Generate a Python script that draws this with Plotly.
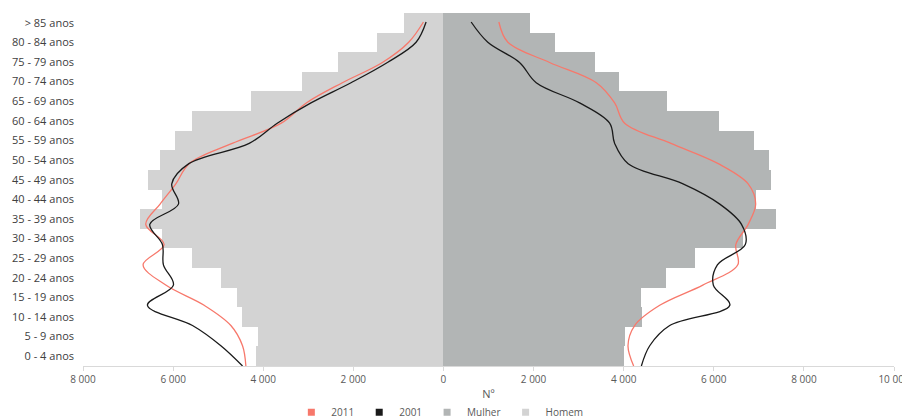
import plotly.graph_objects as go

categories = ["0 - 4 anos", "5 - 9 anos", "10 - 14 anos", "15 - 19 anos", "20 - 24 anos",
              "25 - 29 anos", "30 - 34 anos", "35 - 39 anos", "40 - 44 anos", "45 - 49 anos",
              "50 - 54 anos", "55 - 59 anos", "60 - 64 anos", "65 - 69 anos", "70 - 74 anos",
              "75 - 79 anos", "80 - 84 anos", "> 85 anos"]

homem = [4160, 4120, 4470, 4590, 4940, 5590, 6250, 6730, 6250, 6560,
         6290, 5960, 5590, 4270, 3150, 2350, 1480, 870]
mulher = [4010, 4020, 4410, 4390, 4930, 5590, 6650, 7380, 6930, 7270,
          7230, 6890, 6120, 4960, 3890, 3360, 2470, 1910]

h2011 = [4385, 4459, 4718, 5311, 6163, 6667, 6200, 6607, 6289, 5940,
         5644, 4689, 3600, 3044, 2244, 1355, 771, 444]
h2001 = [4459, 4940, 5570, 6570, 5993, 6215, 6237, 6518, 5881, 6030,
         5650, 4311, 3689, 2941, 2052, 1244, 607, 385]
m2011 = [4222, 4096, 4244, 4800, 5756, 6533, 6489, 6763, 6930, 6763,
         6100, 5050, 4022, 3800, 3393, 2356, 1430, 1230]
m2001 = [4393, 4578, 5022, 6356, 5990, 6080, 6700, 6615, 6133, 5318,
         4100, 3800, 3689, 3022, 2059, 1689, 985, 615]

tick_vals = [-8000, -6000, -4000, -2000, 0, 2000, 4000, 6000, 8000, 10000]
tick_text = ["8 000", "6 000", "4 000", "2 000", "0", "2 000", "4 000", "6 000", "8 000", "10 000"]

C_HOMEM = "#d3d3d3"
C_MULHER = "#b2b5b5"
C_2011 = "#f7786b"
C_2001 = "#1a1a1a"
FONT = "Open Sans"

fig = go.Figure()

fig.add_trace(go.Bar(y=categories, x=[-v for v in homem], orientation="h",
                     marker=dict(color=C_HOMEM, line=dict(width=0)),
                     name="Homem", showlegend=False, customdata=homem,
                     hovertemplate="%{y}: %{customdata}<extra>Homem</extra>"))
fig.add_trace(go.Bar(y=categories, x=mulher, orientation="h",
                     marker=dict(color=C_MULHER, line=dict(width=0)),
                     name="Mulher", showlegend=False))

line_specs = [(h2011, -1, C_2011, "2011"), (m2011, 1, C_2011, "2011"),
              (h2001, -1, C_2001, "2001"), (m2001, 1, C_2001, "2001")]
for vals, sgn, col, nm in line_specs:
    fig.add_trace(go.Scatter(y=categories, x=[sgn * v for v in vals], yaxis="y2",
                             mode="lines", line=dict(color=col, width=1.3, shape="spline", smoothing=1.0),
                             name=nm, showlegend=False))

# legend entries (small squares)
for nm, col in [("2011", C_2011), ("2001", C_2001), ("Mulher", C_MULHER), ("Homem", C_HOMEM)]:
    fig.add_trace(go.Scatter(x=[None], y=[None], mode="markers", name=nm,
                             marker=dict(symbol="square", size=7, color=col)))

fig.update_layout(
    width=902, height=412,
    margin=dict(l=75, r=16, t=5, b=54, autoexpand=False),
    paper_bgcolor="white", plot_bgcolor="white",
    barmode="overlay", bargap=0,
    font=dict(family=FONT, color="#404040", size=11),
    xaxis=dict(range=[-8000, 10000], tickvals=tick_vals, ticktext=tick_text,
               showgrid=False, zeroline=False, showline=True, linecolor="#d9d9d9", linewidth=1,
               ticks="outside", ticklen=4, tickcolor="#d9d9d9",
               tickfont=dict(size=10, color="#595959"),
               title=dict(text="Nº", font=dict(size=11, color="#595959"), standoff=5)),
    yaxis=dict(type="category", categoryorder="array", categoryarray=categories,
               range=[-0.5, 17.5], showgrid=False, zeroline=False, showline=False,
               ticks="", tickfont=dict(size=11, color="#404040"), ticklabelstandoff=8),
    yaxis2=dict(type="category", categoryorder="array", categoryarray=categories,
                overlaying="y", range=[0, 17.445], showgrid=False, zeroline=False,
                showticklabels=False, ticks="", showline=False),
    legend=dict(orientation="h", x=0.44, xanchor="center", y=-0.09, yanchor="top",
                font=dict(size=10, color="#595959"), itemwidth=30, traceorder="normal",
                tracegroupgap=0),
)

fig.write_html("out.html")
